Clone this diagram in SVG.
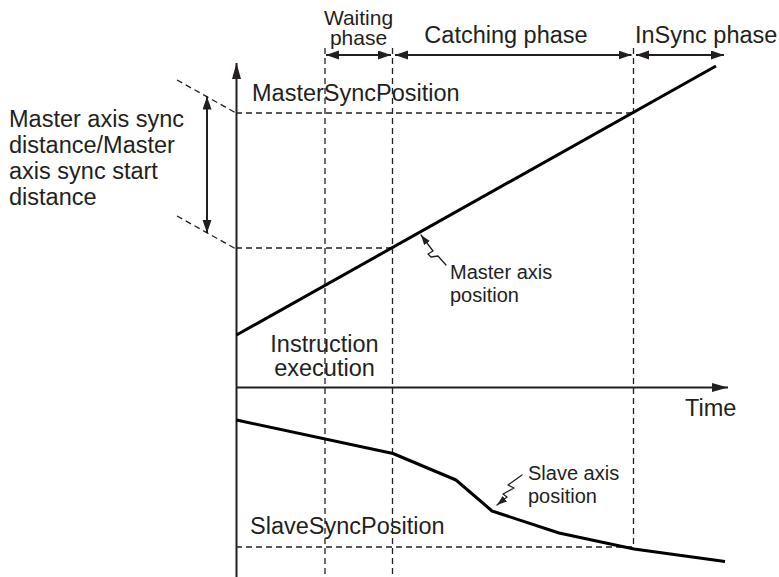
<svg xmlns="http://www.w3.org/2000/svg" width="779" height="577" viewBox="0 0 779 577">
  <defs>
    <marker id="ah" markerUnits="userSpaceOnUse" markerWidth="17" markerHeight="10" refX="16" refY="4.5" orient="auto-start-reverse">
      <path d="M0,0 L16,4.5 L0,9 z" fill="#231f20"/>
    </marker>
    <marker id="ahm" markerUnits="userSpaceOnUse" markerWidth="14" markerHeight="10" refX="13" refY="4.5" orient="auto-start-reverse">
      <path d="M0,0 L13,4.5 L0,9 z" fill="#231f20"/>
    </marker>
    <marker id="ahs" markerUnits="userSpaceOnUse" markerWidth="11" markerHeight="8" refX="10" refY="3.5" orient="auto">
      <path d="M0,0 L10,3.5 L0,7 z" fill="#231f20"/>
    </marker>
    <style>
      text { font-family: "Liberation Sans", Arial, sans-serif; fill: #231f20; }
      .big { font-size: 23.5px; }
      .mid { font-size: 21px; }
      .small { font-size: 20px; }
      .axis { stroke: #231f20; stroke-width: 2; fill: none; }
      .dash { stroke: #231f20; stroke-width: 1.3; stroke-dasharray: 6 4; fill: none; }
      .curve { stroke: #000; stroke-width: 3; fill: none; stroke-linejoin: round; }
      .ptr { stroke: #231f20; stroke-width: 1.3; fill: none; stroke-linejoin: round; stroke-linecap: round; }
      .span { stroke: #231f20; stroke-width: 2; fill: none; }
    </style>
  </defs>

  <g id="connectors">
    <!-- dashed guides -->
    <line class="dash" x1="325" y1="48" x2="325" y2="577"/>
    <line class="dash" x1="392.5" y1="48" x2="392.5" y2="577"/>
    <line class="dash" x1="633.5" y1="48" x2="633.5" y2="547"/>
    <line class="dash" x1="236" y1="113" x2="633.5" y2="113"/>
    <line class="dash" x1="236" y1="248" x2="392.5" y2="248"/>
    <line class="dash" x1="236" y1="547" x2="633.5" y2="547"/>
    <line class="dash" x1="177" y1="80" x2="236" y2="113"/>
    <line class="dash" x1="177" y1="216" x2="236" y2="249"/>

    <!-- phase arrows -->
    <line class="span" x1="326" y1="55" x2="391" y2="55" marker-start="url(#ahm)" marker-end="url(#ahm)"/>
    <line class="span" x1="395" y1="55" x2="631.5" y2="55" marker-start="url(#ahm)" marker-end="url(#ahm)"/>
    <line class="span" x1="636" y1="55" x2="724" y2="55" marker-start="url(#ahm)" marker-end="url(#ahm)"/>

    <!-- sync distance arrow -->
    <line class="span" x1="207" y1="96.5" x2="207" y2="233" marker-start="url(#ahm)" marker-end="url(#ahm)"/>

    <!-- axes -->
    <line class="axis" x1="236.5" y1="577" x2="236.5" y2="63" marker-end="url(#ah)"/>
    <line class="axis" x1="236.5" y1="387.5" x2="728" y2="387.5" marker-end="url(#ah)"/>

    <!-- pointers -->
    <polyline class="ptr" points="446,265 438,256 431,257 428,254 433,251 421,235" marker-end="url(#ahs)"/>
    <polyline class="ptr" points="522,475 508,485 514,488 503,494 507,497 497,505" marker-end="url(#ahs)"/>
  </g>

  <g id="master-axis-position">
    <line class="curve" x1="236.5" y1="335" x2="716" y2="66"/>
    <text class="small" x="450" y="279">Master axis</text>
    <text class="small" x="450" y="302">position</text>
  </g>

  <g id="slave-axis-position">
    <polyline class="curve" points="236.5,420 393,453.5 456,480 492,511 559,533 634,549 725,561.5"/>
    <text class="small" x="528" y="480">Slave axis</text>
    <text class="small" x="528" y="503">position</text>
  </g>

  <g id="waiting-phase">
    <text class="mid" x="358.5" y="25" text-anchor="middle">Waiting</text>
    <text class="mid" x="358.5" y="45" text-anchor="middle">phase</text>
  </g>
  <g id="catching-phase">
    <text class="big" x="506" y="43" text-anchor="middle">Catching phase</text>
  </g>
  <g id="insync-phase">
    <text class="big" x="635" y="43">InSync phase</text>
  </g>
  <g id="master-sync-position">
    <text class="big" x="252" y="101">MasterSyncPosition</text>
  </g>
  <g id="sync-distance">
    <text class="big" x="9" y="127">Master axis sync</text>
    <text class="big" x="9" y="153">distance/Master</text>
    <text class="big" x="9" y="179">axis sync start</text>
    <text class="big" x="9" y="205">distance</text>
  </g>
  <g id="instruction-execution">
    <text class="big" x="324.5" y="352" text-anchor="middle">Instruction</text>
    <text class="big" x="324.5" y="376" text-anchor="middle">execution</text>
  </g>
  <g id="time">
    <text class="big" x="685" y="416">Time</text>
  </g>
  <g id="slave-sync-position">
    <text class="big" x="250" y="534">SlaveSyncPosition</text>
  </g>
</svg>
